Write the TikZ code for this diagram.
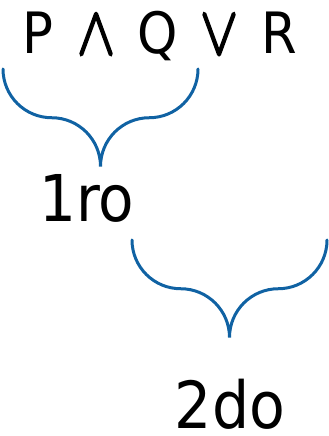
\documentclass[tikz,border=0pt]{standalone}
\usepackage{fontspec}
\setmainfont{DejaVu Sans Condensed}
\newfontfamily\opfont{Latin Modern Math}[FakeBold=3]
\definecolor{braceblue}{RGB}{16,98,163}
\tikzset{
  bracestyle/.style={draw=braceblue, line width=3pt, line cap=round},
  lbl/.style={inner sep=0pt, anchor=base, text=black},
  topfont/.style={font=\fontsize{57}{60}\selectfont}
}
\newcommand{\bracepath}[3]{% x0, y0, r
  \draw[bracestyle] (#1pt,#2pt)
    .. controls +(0,-0.552*#3pt) and +(-0.552*#3pt,0) .. ++(#3pt,-#3pt)
    .. controls +(0.552*#3pt,0) and +(0,0.552*#3pt) .. ++(#3pt,-#3pt)
    .. controls +(0,0.552*#3pt) and +(-0.552*#3pt,0) .. ++(#3pt,#3pt)
    .. controls +(0.552*#3pt,0) and +(0,-0.552*#3pt) .. ++(#3pt,#3pt);
}
\begin{document}
\begin{tikzpicture}[x=1pt,y=1pt]
\useasboundingbox (0,0) rectangle (329,436);
\node[lbl, topfont] (p) at (37.5,382) {P};
\node[lbl, topfont] (and) at (96,382) {\opfont\scalebox{1.05}[1.2]{∧}};
\node[lbl, topfont] (q) at (157.5,382) {Q};
\node[lbl, topfont] (or) at (219,382) {\opfont\scalebox{1.05}[1.2]{∨}};
\node[lbl, topfont] (r) at (279.5,382) {R};
\node[lbl, font=\fontsize{64.5}{70}\selectfont] (first) at (87,214) {1ro};
\node[lbl, text depth=0pt, font=\fontsize{65}{72}\selectfont] (second) at (230,7) {2do};
\bracepath{3}{367}{48.75}
\bracepath{132}{196}{48.75}
\end{tikzpicture}
\end{document}
